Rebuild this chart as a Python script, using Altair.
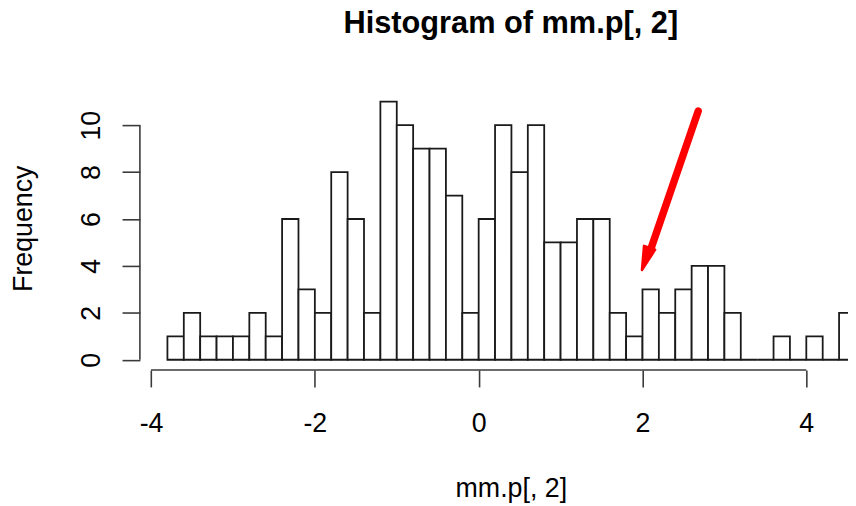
import altair as alt
import pandas as pd

# ---- data ----
bin_first_start = -3.8
bin_width = 0.2
counts = [1, 2, 1, 1, 1, 2, 1, 6, 3, 2, 8, 6, 2, 11, 10, 9, 9, 7, 2, 6, 10,
          8, 10, 5, 5, 6, 6, 2, 1, 3, 2, 3, 4, 4, 2, 0, 0, 1, 0, 1, 0, 2]
x_ticks = [-4, -2, 0, 2, 4]
y_ticks = [0, 2, 4, 6, 8, 10]
x_domain = [-4.136, 4.509]
y_domain = [-0.44, 11.44]

# red arrow annotation (data coordinates)
arrow_tail = [2.68, 10.6]
arrow_end = [2.08, 4.5]
arrow_head = [2.04, 4.3]

FONT = "Liberation Sans"
AXIS_COL = "#3a3a3a"

starts = [round(bin_first_start + i * bin_width, 2) for i in range(len(counts))]
ends = [round(s + bin_width, 2) for s in starts]
bars_df = pd.DataFrame({"start": starts, "end": ends, "count": counts})

xscale = alt.Scale(domain=x_domain, nice=False, zero=False)
yscale = alt.Scale(domain=y_domain, nice=False, zero=False)

bars = alt.Chart(bars_df).mark_rect(
    fill="white", stroke="#1a1a1a", strokeWidth=1.8, clip=True
).encode(
    x=alt.X("start:Q", scale=xscale, axis=alt.Axis(
        values=x_ticks, domain=False, grid=False, tickSize=17, tickWidth=1.6,
        tickColor=AXIS_COL, labelFont=FONT, labelFontSize=27, labelColor="black",
        labelExpr="'' + datum.value",
        labelBaseline="alphabetic", labelPadding=45, labelFlush=False,
        labelOverlap=False,
        title="mm.p[, 2]", titleFont=FONT, titleFontSize=27, titleFontWeight="normal",
        titleColor="black", titleX=374, titleY=127, titleAlign="center",
        titleBaseline="alphabetic")),
    x2="end:Q",
    y=alt.Y("count:Q", scale=yscale, axis=alt.Axis(
        values=y_ticks, domain=False, grid=False, tickSize=18, tickWidth=1.6,
        tickColor=AXIS_COL, labelFont=FONT, labelFontSize=27, labelColor="black",
        labelExpr="'' + datum.value",
        labelAngle=270, labelAlign="center", labelBaseline="alphabetic",
        labelPadding=23, labelFlush=False, labelOverlap=False,
        title="Frequency", titleFont=FONT, titleFontSize=27, titleFontWeight="normal",
        titleColor="black", titleAngle=270, titleX=-109, titleY=138,
        titleAlign="center", titleBaseline="alphabetic")),
    y2=alt.datum(0),
)

xaxis_line = alt.Chart(pd.DataFrame({"a": [x_ticks[0]], "b": [x_ticks[-1]], "y": [y_domain[0]]})).mark_rule(
    color=AXIS_COL, strokeWidth=1.6
).encode(x=alt.X("a:Q", scale=xscale), x2="b:Q", y=alt.Y("y:Q", scale=yscale))

yaxis_line = alt.Chart(pd.DataFrame({"x": [x_domain[0]], "a": [y_ticks[0]], "b": [y_ticks[-1]]})).mark_rule(
    color=AXIS_COL, strokeWidth=1.6
).encode(x=alt.X("x:Q", scale=xscale), y=alt.Y("a:Q", scale=yscale), y2="b:Q")

shaft = alt.Chart(pd.DataFrame({"x": [arrow_tail[0]], "y": [arrow_tail[1]],
                                "x2": [arrow_end[0]], "y2": [arrow_end[1]]})).mark_rule(
    color="#ff0000", strokeWidth=7.5, strokeCap="round"
).encode(x=alt.X("x:Q", scale=xscale), y=alt.Y("y:Q", scale=yscale), x2="x2:Q", y2="y2:Q")

head = alt.Chart(pd.DataFrame({"x": [arrow_head[0]], "y": [arrow_head[1]]})).mark_point(
    shape="M0,1 L-0.5,-1 L0.5,-1 Z", filled=True, fill="#ff0000", stroke="#ff0000",
    strokeWidth=2.5, strokeJoin="round", opacity=1, size=560, angle=19
).encode(x=alt.X("x:Q", scale=xscale), y=alt.Y("y:Q", scale=yscale))

chart = alt.layer(bars, xaxis_line, yaxis_line, shaft, head).properties(
    width=714, height=281,
    background="white",
    title=alt.TitleParams("Histogram of mm.p[, 2]", font=FONT, fontSize=31,
                          fontWeight="bold", anchor="middle", dx=17, offset=28,
                          baseline="alphabetic", color="black"),
    autosize=alt.AutoSizeParams(type="none"),
    padding={"left": 133, "top": 82, "right": 0, "bottom": 135},
).configure_view(stroke="transparent", strokeWidth=0)

chart.save("out.html", embed_options={"renderer": "svg", "actions": False})
